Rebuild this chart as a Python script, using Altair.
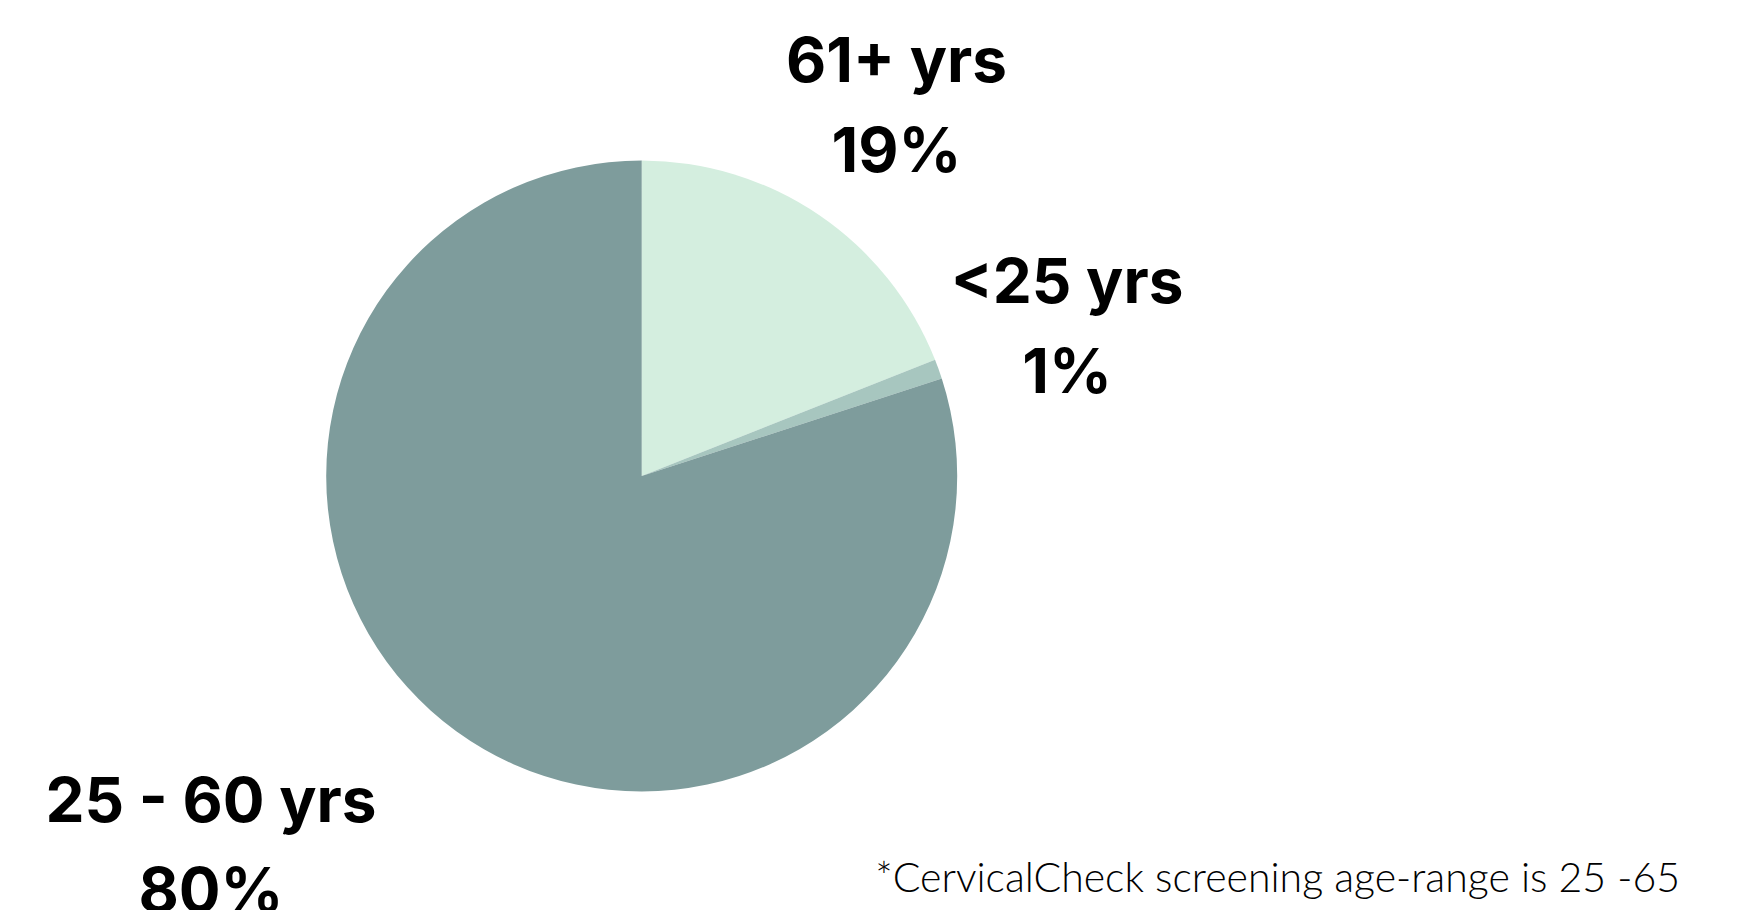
import altair as alt
import pandas as pd

# data
categories = ["61+ yrs", "<25 yrs", "25 - 60 yrs"]
shares = [19, 1, 80]
order_idx = [1, 2, 3]
colors = ["#d4eedf", "#a7c6bf", "#7e9c9c"]
footnote = "*CervicalCheck screening age-range is 25 -65"

df = pd.DataFrame({"group": categories, "share": shares, "ord": order_idx})

W, H = 1725, 902
CX, CY, R = 633.7, 468.0, 315.5

pie = alt.Chart(df).mark_arc(strokeWidth=0).encode(
    theta=alt.Theta("share:Q", stack=True),
    color=alt.Color("group:N", scale=alt.Scale(domain=categories, range=colors), legend=None),
    order=alt.Order("ord:Q", sort="ascending"),
    x=alt.value(CX),
    y=alt.value(CY),
    radius=alt.value(R),
)

def label(i, x, y):
    d = pd.DataFrame({"t": [[categories[i], f"{shares[i]}%"]]})
    return alt.Chart(d).mark_text(
        font="Inter", fontWeight="bold", fontSize=62, color="#000000",
        align="center", baseline="alphabetic", lineHeight=90,
    ).encode(text="t:N", x=alt.value(x), y=alt.value(y))

lab1 = label(0, 888.5, 74)
lab2 = label(1, 1059, 295)
lab3 = label(2, 203, 814)

foot = alt.Chart(pd.DataFrame({"t": [footnote]})).mark_text(
    font="Lato", fontWeight=300, fontSize=41, color="#000000",
    align="right", baseline="alphabetic",
).encode(text="t:N", x=alt.value(1672), y=alt.value(884))

chart = alt.layer(pie, lab1, lab2, lab3, foot).properties(
    width=W, height=H, padding=0, autosize=alt.AutoSizeParams(type="none"),
).configure_view(stroke=None)

chart.save("out.html", embed_options={"renderer": "svg", "actions": False})
